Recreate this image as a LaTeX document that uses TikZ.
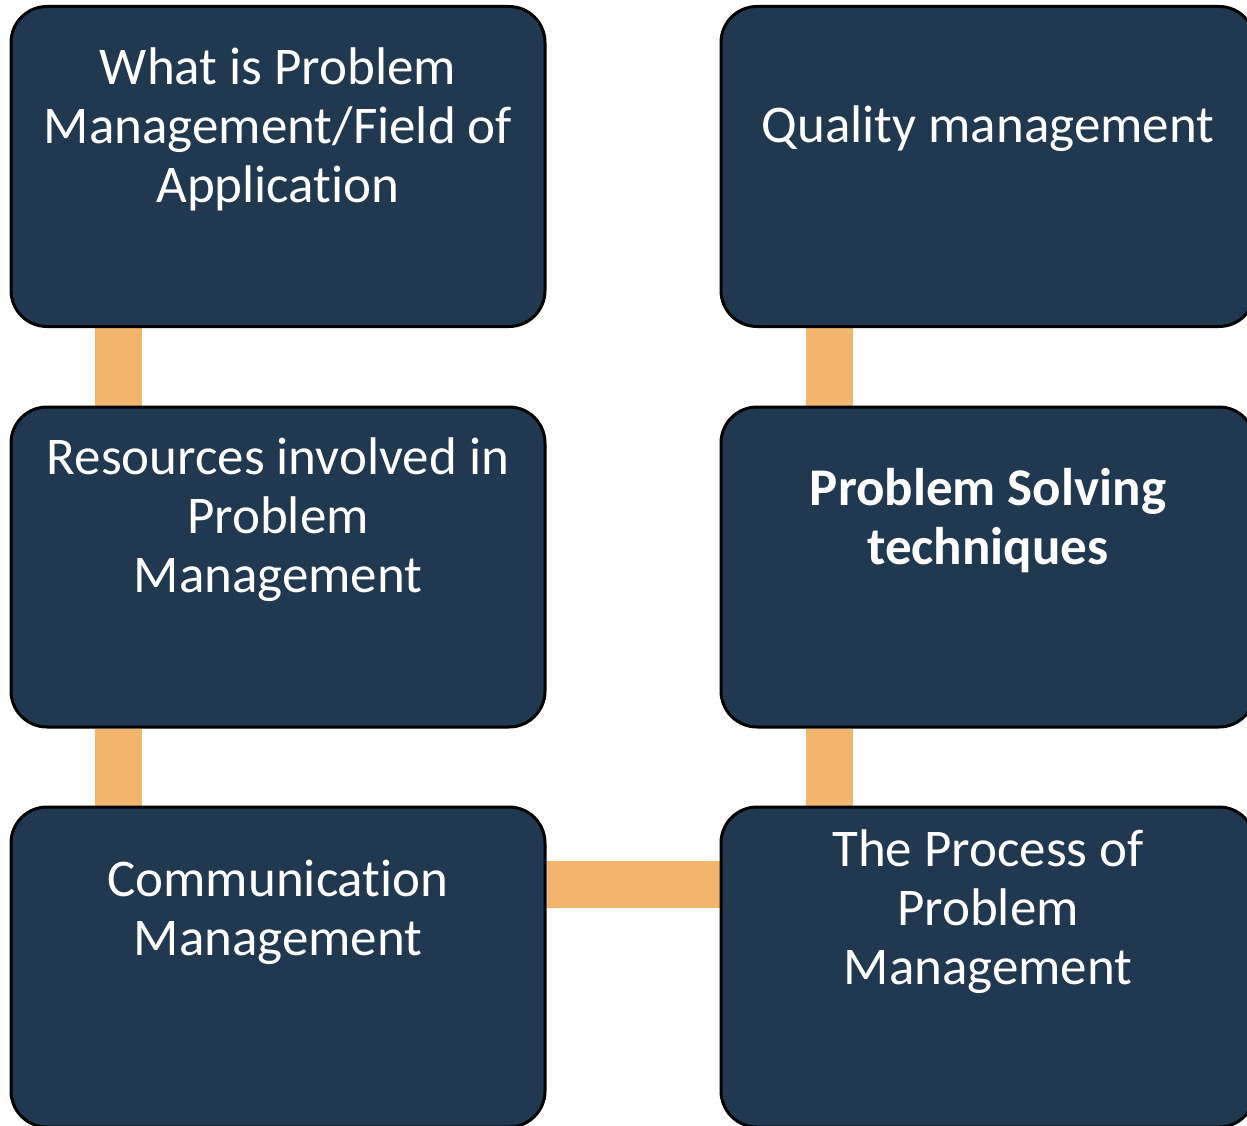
\documentclass[tikz,border=0pt]{standalone}
\usepackage{fontspec}
\setmainfont{Carlito}[Ligatures={NoCommon}]
\usetikzlibrary{backgrounds,calc}
\definecolor{navy}{RGB}{32,57,80}
\definecolor{conn}{RGB}{242,181,107}
\begin{document}
\begin{tikzpicture}[x=1pt,y=-1pt,
  box/.style={draw=black,line width=3pt,fill=navy,rounded corners=36pt,minimum width=534pt,minimum height=320pt,inner sep=0pt},
  lbl/.style={text=white,align=center,font=\fontsize{53}{59}\selectfont,inner sep=0pt},
  link/.style={draw=conn,line width=47pt}]
\useasboundingbox (0,0) rectangle (1247,1126);
\node[box] (b1) at (278,166.5) {};
\node[box] (b2) at (278,567) {};
\node[box] (b3) at (278,967) {};
\node[box] (b4) at (988,166.5) {};
\node[box] (b5) at (988,567) {};
\node[box] (b6) at (988,967) {};
\node[lbl] (t1) at (278,129) {What is Problem\\Management/Field of\\Application};
\node[lbl] (t2) at (278,520) {Resources involved in\\Problem\\Management};
\node[lbl] (t3) at (278,912) {Communication\\Management};
\node[lbl] (t4) at (988,129) {Quality management};
\node[lbl,font=\fontsize{53}{59}\selectfont\bfseries] (t5) at (988,521) {Problem Solving\\techniques};
\node[lbl] (t6) at (988,912) {The Process of\\Problem\\Management};
\begin{scope}[on background layer]
\draw[link] ([xshift=-159.5pt]b1.south) -- ([xshift=-159.5pt]b2.north);
\draw[link] ([xshift=-159.5pt]b2.south) -- ([xshift=-159.5pt]b3.north);
\draw[link] ([xshift=-159pt]b4.south) -- ([xshift=-159pt]b5.north);
\draw[link] ([xshift=-159pt]b5.south) -- ([xshift=-159pt]b6.north);
\draw[link] ([yshift=82.5pt]b3.east) -- ([yshift=82.5pt]b3.east -| b6.west);
\end{scope}
\end{tikzpicture}
\end{document}
